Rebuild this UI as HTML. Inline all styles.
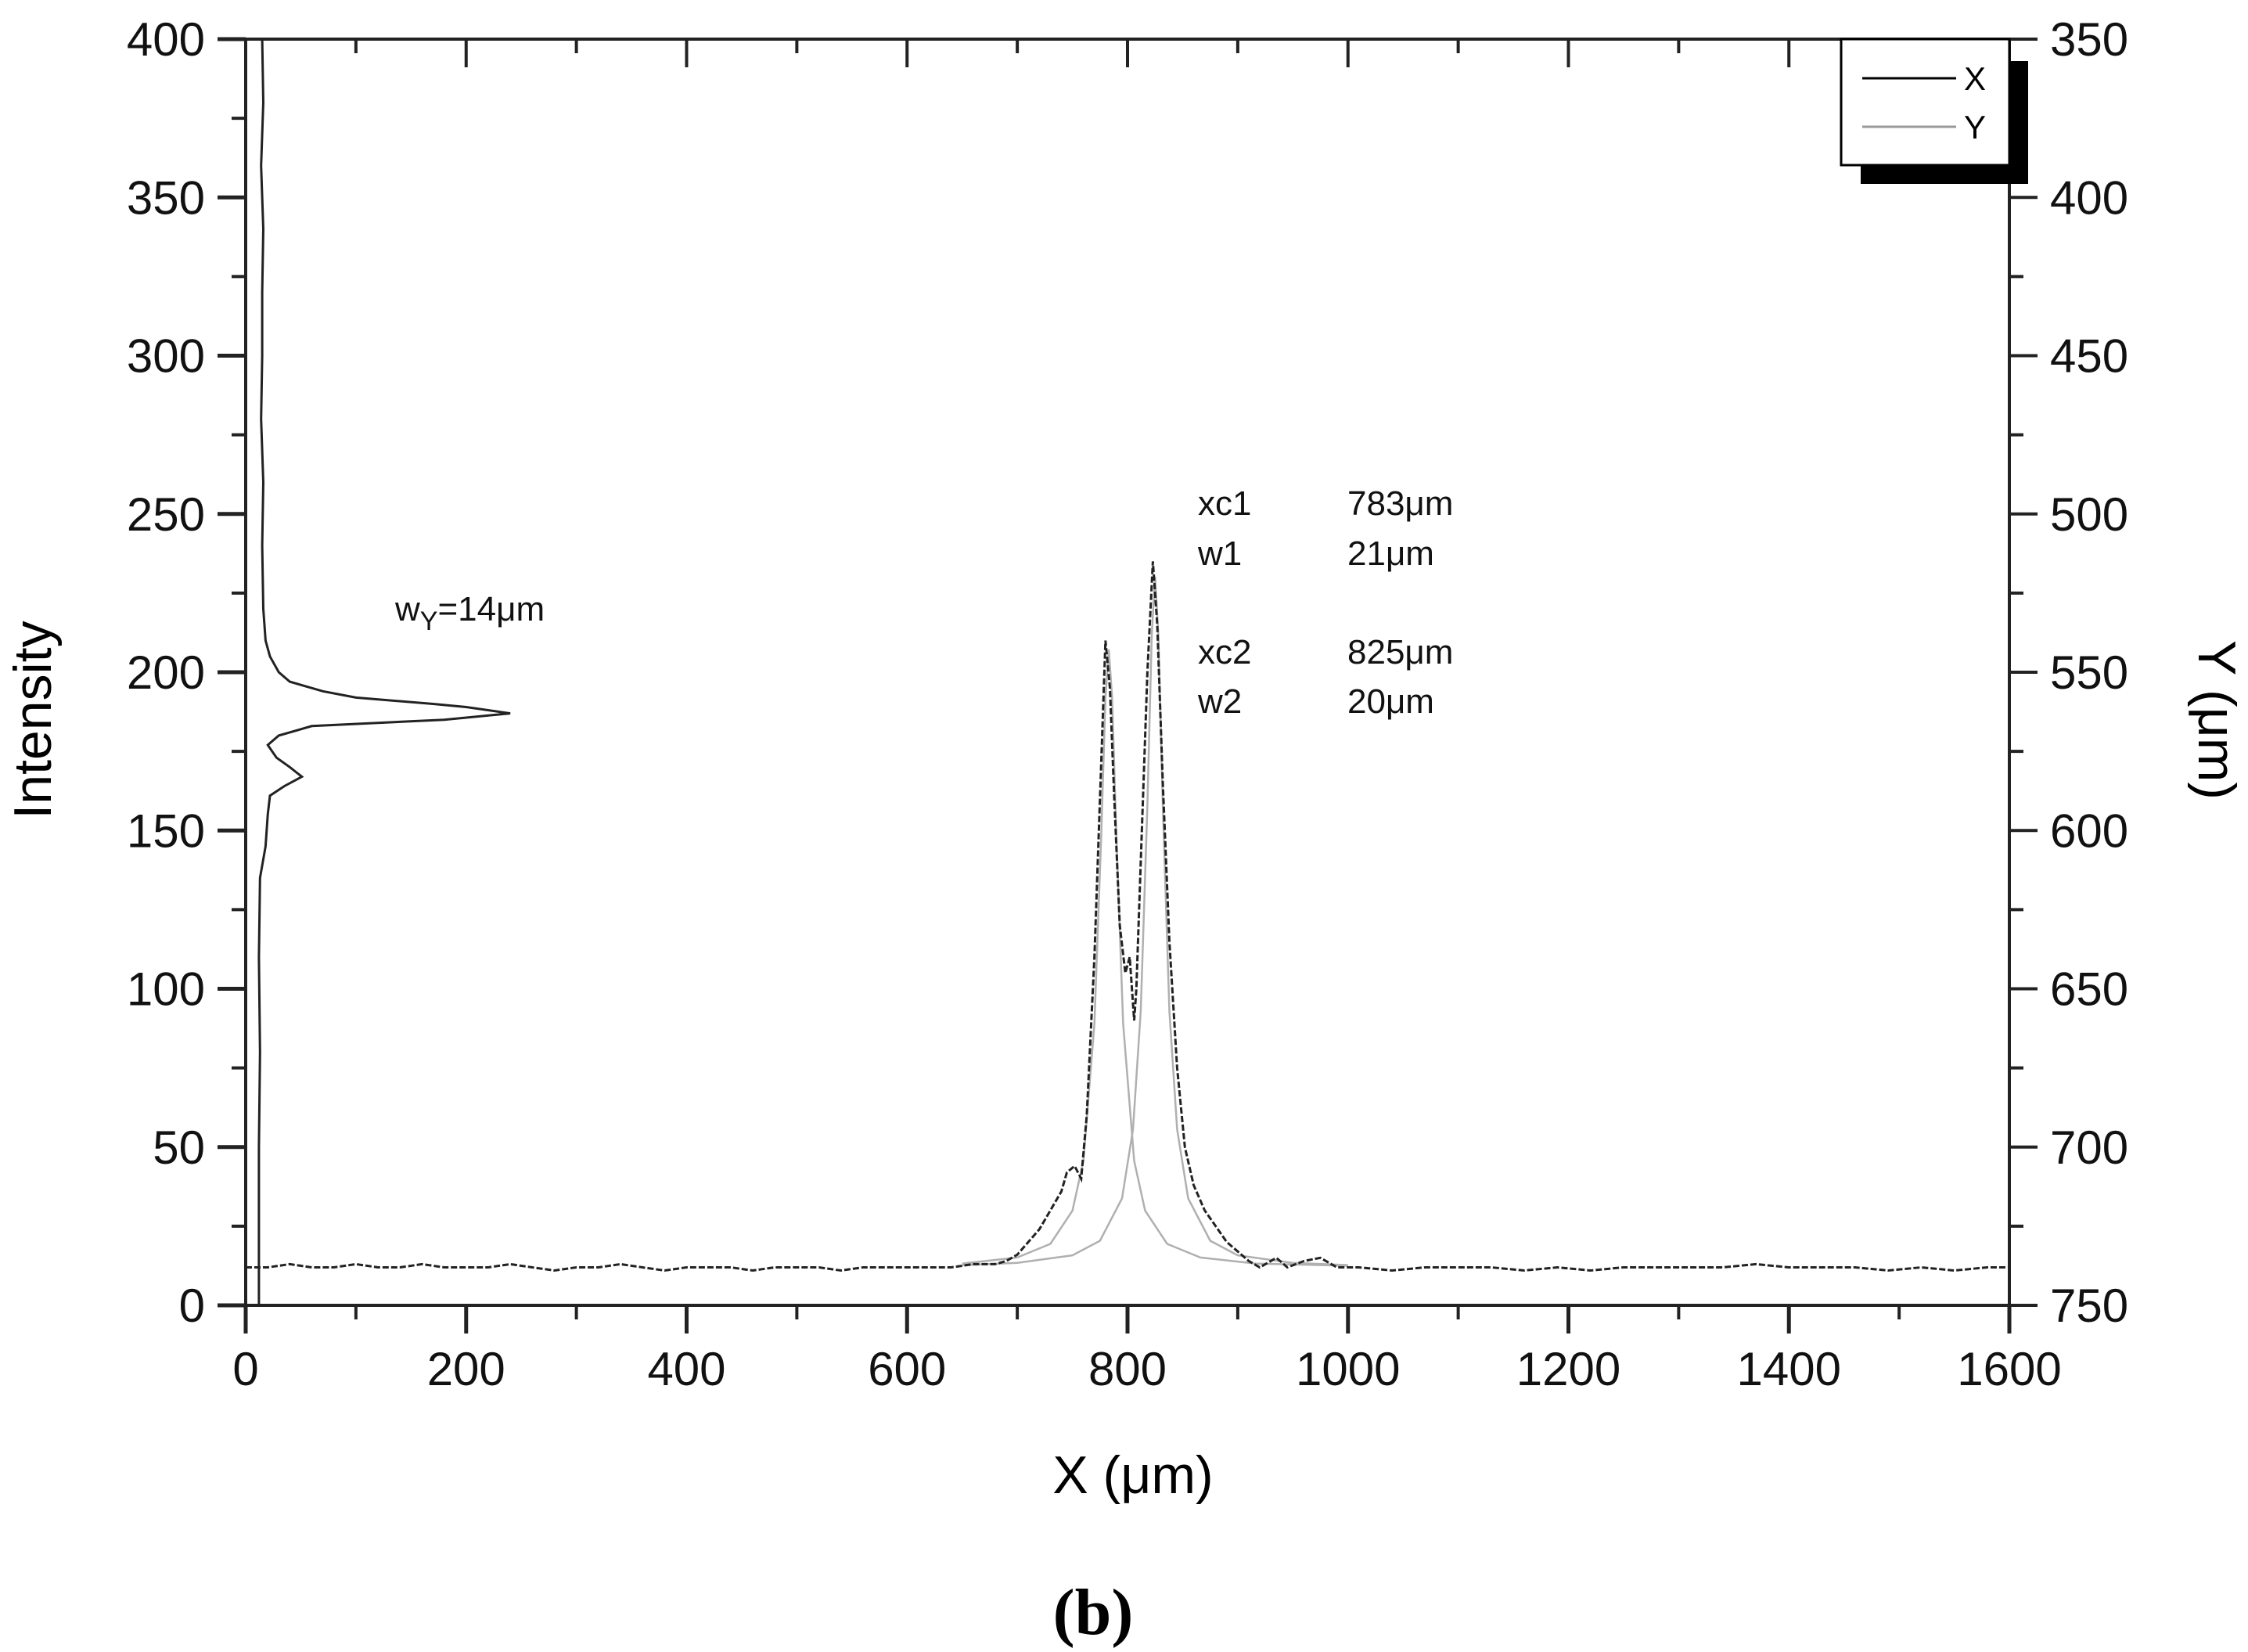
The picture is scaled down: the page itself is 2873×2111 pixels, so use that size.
<!DOCTYPE html>
<html><head><meta charset="utf-8"><style>
html,body{margin:0;padding:0;background:#fff;}
svg{display:block;font-family:"Liberation Sans",Arial,sans-serif;}
</style></head>
<body>
<svg id="chart" width="2873" height="2111" viewBox="0 0 2873 2111" xmlns="http://www.w3.org/2000/svg">
<rect x="0" y="0" width="2873" height="2111" fill="#fff"/>
<g id="axes"></g>
<g id="series"></g>
<text x="0" y="0" font-size="68" text-anchor="middle" transform="translate(65,920) rotate(-90)">Intensity</text>
<text x="0" y="0" font-size="68" text-anchor="middle" transform="translate(2810,920) rotate(90)">Y (μm)</text>
<text x="1448" y="1908" font-size="68" text-anchor="middle">X (μm)</text>
<text x="1397" y="2088" font-size="84" font-weight="bold" text-anchor="middle" font-family="Liberation Serif,serif">(b)</text>
<g font-size="44" fill="#111">
<text x="1531" y="658">xc1</text><text x="1722" y="658">783μm</text>
<text x="1531" y="722">w1</text><text x="1722" y="722">21μm</text>
<text x="1531" y="848">xc2</text><text x="1722" y="848">825μm</text>
<text x="1531" y="911">w2</text><text x="1722" y="911">20μm</text>
</g>
<text x="505" y="793" font-size="44" fill="#111">w<tspan font-size="34" dy="12">Y</tspan><tspan dy="-12">=14μm</tspan></text>
<g>
<rect x="2378" y="78" width="214" height="157" fill="#000"/>
<rect x="2353" y="50" width="215" height="161" fill="#fff" stroke="#000" stroke-width="3"/>
<line x1="2380" y1="100" x2="2500" y2="100" stroke="#000" stroke-width="3"/>
<text x="2510" y="115" font-size="42">X</text>
<line x1="2380" y1="162" x2="2500" y2="162" stroke="#999" stroke-width="3"/>
<text x="2510" y="177" font-size="42">Y</text>
</g>
</svg>
<script>
const xTicks=[0,200,400,600,800,1000,1200,1400,1600];
const yTicks=[0,50,100,150,200,250,300,350,400];
const rTicks=[350,400,450,500,550,600,650,700,750];
const xDataPos=[0,20,40,60,80,100,120,140,160,180,200,220,240,260,280,300,320,340,360,380,400,420,440,460,480,500,520,540,560,580,600,620,640,660,680,690,700,710,720,730,740,745,752,758,763,770,776,780,784,788,793,798,802,806,808,812,818,823,827,832,838,845,852,860,870,880,890,900,910,920,935,945,960,975,990,1010,1040,1070,1100,1130,1160,1190,1220,1250,1280,1310,1340,1370,1400,1430,1460,1490,1520,1550,1580,1600];
const xDataInt=[12,12,13,12,12,13,12,12,13,12,12,12,13,12,11,12,12,13,12,11,12,12,12,11,12,12,12,11,12,12,12,12,12,13,13,14,16,20,24,30,36,42,44,40,60,110,170,210,195,160,120,105,110,90,100,140,200,235,215,165,115,75,50,38,30,25,20,17,14,12,15,12,14,15,12,12,11,12,12,12,11,12,11,12,12,12,12,13,12,12,12,11,12,11,12,12];
const fit1Pos=[650,700,730,750,760,770,776,780,783,786,790,796,806,816,836,866,916,1000];
const fit1Int=[13.2,15.1,19.4,29.9,45.6,89,147,192,207,192,147,89,45.6,29.9,19.4,15.1,13.2,12.5];
const fit2Pos=[650,700,750,775,795,805,812,818,822,825,828,832,838,845,855,875,900,950,1000];
const fit2Int=[12.7,13.4,15.8,20.4,33.8,55.6,93,158,212,230,212,158,93,55.6,33.8,20.4,15.8,13.4,12.7];
const yProfPos=[350,370,390,410,430,450,470,490,510,530,540,545,550,553,556,558,560,561,563,565,567,570,573,577,580,583,586,589,595,605,615,640,670,700,730,750];
const yProfInt=[15,16,14,16,15,15,14,16,15,16,18,22,30,40,70,100,170,200,240,180,60,30,20,28,40,51,35,22,20,18,13,12,13,12,12,12];

const L=314,R=2568,T=50,B=1668;
const sx=v=>L+(v/1600)*(R-L);
const sy=v=>B-(v/400)*(B-T);
const sr=v=>T+((v-350)/400)*(B-T);
const NS="http://www.w3.org/2000/svg";
const axes=document.getElementById('axes'), series=document.getElementById('series');
function mk(tag,attrs,parent){const e=document.createElementNS(NS,tag);for(const k in attrs)e.setAttribute(k,attrs[k]);parent.appendChild(e);return e;}

let f=mk('rect',{x:L,y:T,width:R-L,height:B-T,fill:'none',stroke:'#222','stroke-width':4},axes);



for(let i=0;i<xTicks.length;i++){
  const v=xTicks[i],x=sx(v);
  let t=mk('line',{x1:x,y1:B,x2:x,y2:B+36,stroke:'#222','stroke-width':5},axes);
  
  
  let tt=mk('line',{x1:x,y1:T,x2:x,y2:T+36,stroke:'#222','stroke-width':4},axes);
  
  
  let lb=mk('text',{x:x,y:B+102,'font-size':60,'text-anchor':'middle',fill:'#111'},axes);
  lb.textContent=v;
  
  
  if(i<xTicks.length-1){
    const m=sx(v+100);
    let mt=mk('line',{x1:m,y1:B,x2:m,y2:B+18,stroke:'#222','stroke-width':4},axes);
    
    
    let mt2=mk('line',{x1:m,y1:T,x2:m,y2:T+18,stroke:'#222','stroke-width':4},axes);
    
    
  }
}
for(let i=0;i<yTicks.length;i++){
  const v=yTicks[i],y=sy(v);
  let t=mk('line',{x1:L-36,y1:y,x2:L,y2:y,stroke:'#222','stroke-width':5},axes);
  
  
  let lb=mk('text',{x:L-52,y:y+21,'font-size':60,'text-anchor':'end',fill:'#111'},axes);
  lb.textContent=v;
  
  
  if(i<yTicks.length-1){
    const m=sy(v+25);
    let mt=mk('line',{x1:L-18,y1:m,x2:L,y2:m,stroke:'#222','stroke-width':4},axes);
    
    
  }
}
for(let i=0;i<rTicks.length;i++){
  const v=rTicks[i],y=sr(v);
  let t=mk('line',{x1:R,y1:y,x2:R+36,y2:y,stroke:'#222','stroke-width':4},axes);
  
  
  let lb=mk('text',{x:R+52,y:y+21,'font-size':60,'text-anchor':'start',fill:'#111'},axes);
  lb.textContent=v;
  
  
  if(i<rTicks.length-1){
    const m=sr(v+25);
    let mt=mk('line',{x1:R,y1:m,x2:R+18,y2:m,stroke:'#222','stroke-width':4},axes);
    
    
  }
}
function pathFrom(xs,ys,fx,fy){return xs.map((v,i)=>(i?'L':'M')+fx(v).toFixed(1)+' '+fy(ys[i]).toFixed(1)).join(' ');}

let f1=mk('path',{d:pathFrom(fit1Pos,fit1Int,sx,sy),fill:'none',stroke:'#b0b0b0','stroke-width':2.5,'stroke-linejoin':'round'},series);


let f2=mk('path',{d:pathFrom(fit2Pos,fit2Int,sx,sy),fill:'none',stroke:'#b0b0b0','stroke-width':2.5,'stroke-linejoin':'round'},series);


let xl=mk('path',{d:pathFrom(xDataPos,xDataInt,sx,sy),fill:'none',stroke:'#222','stroke-width':3,'stroke-dasharray':'8 3'},series);


let yl=mk('path',{d:yProfPos.map((p,i)=>(i?'L':'M')+sx(yProfInt[i]).toFixed(1)+' '+sr(p).toFixed(1)).join(' '),fill:'none',stroke:'#222','stroke-width':3},series);


</script>
</body></html>
